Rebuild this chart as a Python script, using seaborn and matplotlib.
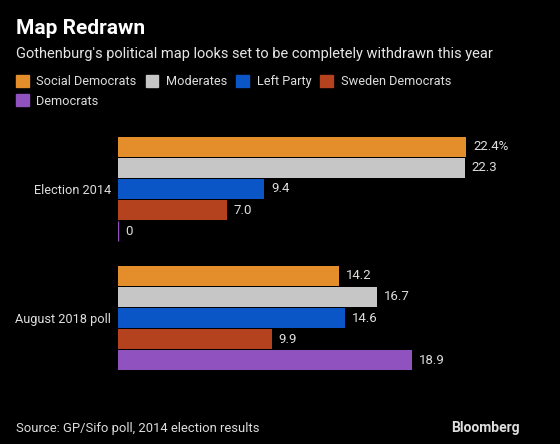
import matplotlib
matplotlib.use("Agg")
import matplotlib.pyplot as plt
import seaborn as sns
import pandas as pd
from matplotlib.patches import Patch

categories = ["Election 2014", "August 2018 poll"]
parties = ["Social Democrats", "Moderates", "Left Party", "Sweden Democrats", "Democrats"]
election_2014 = [22.4, 22.3, 9.4, 7.0, 0]
poll_2018 = [14.2, 16.7, 14.6, 9.9, 18.9]
labels_2014 = ["22.4%", "22.3", "9.4", "7.0", "0"]
labels_2018 = ["14.2", "16.7", "14.6", "9.9", "18.9"]
colors = ["#E38E2B", "#C6C6C6", "#0A56C6", "#B5421F", "#9052BF"]

rows = []
for p, v in zip(parties, election_2014):
    rows.append({"cat": categories[0], "party": p, "value": v})
for p, v in zip(parties, poll_2018):
    rows.append({"cat": categories[1], "party": p, "value": v})
df = pd.DataFrame(rows)

sns.set_style("dark")
FONT = ["Roboto", "DejaVu Sans"]
plt.rcParams["font.family"] = FONT

fig = plt.figure(figsize=(5.6, 4.44), dpi=100, facecolor="black")
ax = fig.add_axes([118/560, 1-378/444, 404/560, 248/444])
ax.set_facecolor("black")

sns.barplot(data=df, y="cat", x="value", hue="party", hue_order=parties,
            palette=colors, orient="h", width=0.815, gap=0.05, ax=ax,
            legend=False, saturation=1)

for patch in ax.patches:
    if patch.get_width() == 0:
        patch.set_edgecolor(patch.get_facecolor())
        patch.set_linewidth(1.0)
    else:
        patch.set_linewidth(0)

# value labels
for i, cont in enumerate(ax.containers):
    labs = [labels_2014[i], labels_2018[i]]
    ax.bar_label(cont, labels=labs, padding=5, color="#dddddd", fontsize=9.5)

ax.set_xlim(0, 26)
ax.set_ylim(1.465, -0.457)
ax.set_xticks([])
ax.set_xlabel("")
ax.set_ylabel("")
ax.tick_params(axis="y", length=0, pad=5, colors="#dddddd", labelsize=9.2)
for s in ax.spines.values():
    s.set_visible(False)
ax.grid(False)

fig.text(16/560, 1-29/444, "Map Redrawn", color="white", fontsize=15,
         fontweight="bold", va="center", ha="left")
fig.text(16/560, 1-54/444, "Gothenburg's political map looks set to be completely withdrawn this year",
         color="#e6e6e6", fontsize=10.5, va="center", ha="left")

handles = [Patch(facecolor=c, edgecolor=c) for c in colors]
order = [0, 4, 1, 2, 3]
leg = fig.legend([handles[i] for i in order], [parties[i] for i in order],
                 ncol=4, loc="upper left", bbox_to_anchor=(16/560, 1-75/444),
                 frameon=False, fontsize=9.2, handlelength=1.0, handleheight=1.1,
                 handletextpad=0.6, columnspacing=0.7, labelspacing=0.45,
                 borderaxespad=0, borderpad=0)
for t in leg.get_texts():
    t.set_color("#dddddd")

fig.text(16/560, 1-428/444, "Source: GP/Sifo poll, 2014 election results",
         color="#dddddd", fontsize=9.4, va="center", ha="left")
fig.text(520/560, 1-428/444, "Bloomberg", color="#dddddd", fontsize=10,
         fontweight="bold", va="center", ha="right")

fig.savefig("out.png", dpi=100, facecolor="black")
